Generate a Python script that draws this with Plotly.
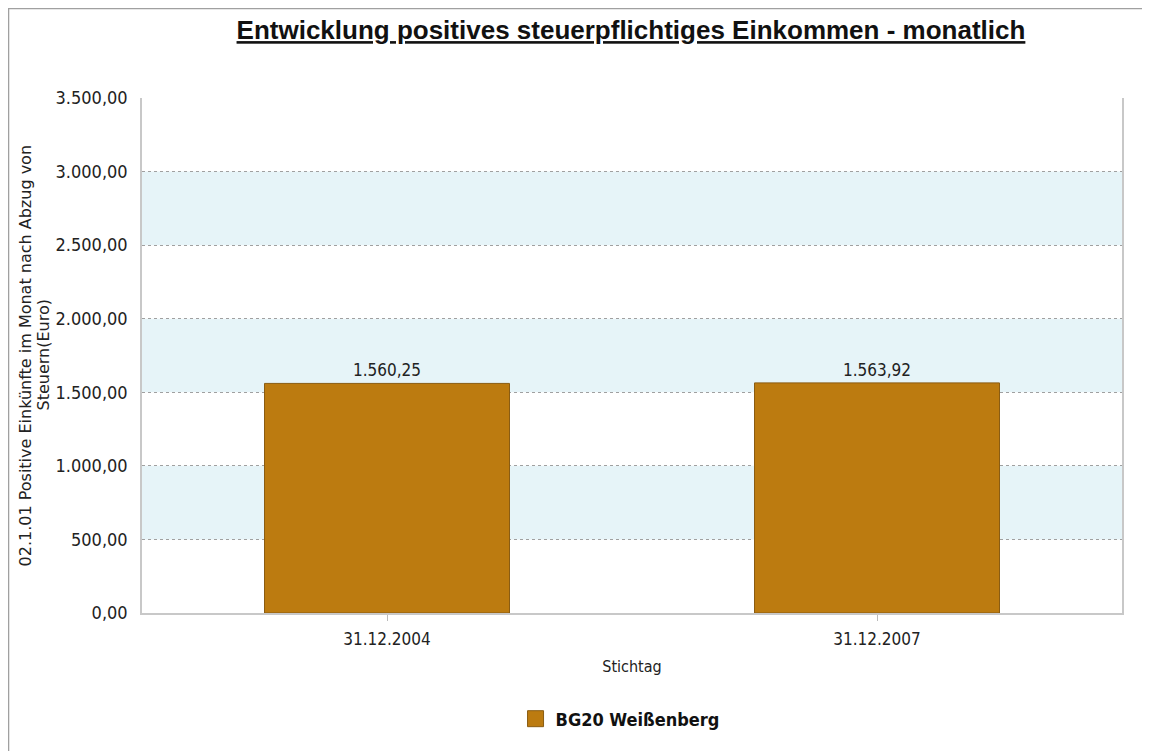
import plotly.graph_objects as go

categories = ["31.12.2004", "31.12.2007"]
values = [1560.25, 1563.92]
series_name = "BG20 Weißenberg"
y_ticks = [0, 500, 1000, 1500, 2000, 2500, 3000, 3500]
band_starts = [500, 1500, 2500]
band_width = 500
y_title_lines = ["02.1.01 Positive Einkünfte im Monat nach Abzug von", "Steuern(Euro)"]

BAR = "#BC7B10"
FONT = "DejaVu Sans Condensed"

fig = go.Figure()
fig.add_trace(go.Bar(
    x=categories, y=values, name=series_name, showlegend=False,
    marker=dict(color=BAR, line=dict(color="#8A5C12", width=1)),
    texttemplate="%{y:,.2f}", textposition="outside",
    textfont=dict(family=FONT, size=17, color="#222"),
    cliponaxis=False,
))
# legend entry
fig.add_trace(go.Scatter(
    x=[None], y=[None], mode="markers", name="<b>" + series_name + "</b>",
    marker=dict(symbol="square", size=20, color=BAR, line=dict(color="#8A5C12", width=1)),
    showlegend=True,
))

shapes = [dict(type="rect", xref="paper", yref="y", x0=0, x1=1, y0=b, y1=b + band_width,
               fillcolor="#E6F4F8", line=dict(width=0), layer="below") for b in band_starts]
# page frame
shapes.append(dict(type="rect", xref="paper", yref="paper", x0=-0.1362, x1=1.1, y0=-0.4, y1=1.1738,
                   line=dict(color="#A0A0A0", width=1.5), fillcolor="rgba(0,0,0,0)", layer="below"))

annotations = [
    dict(text=y_title_lines[0], xref="paper", yref="paper", x=-0.1184, y=0.5,
         textangle=-90, showarrow=False, xanchor="center", yanchor="middle",
         font=dict(family="DejaVu Sans", size=16, color="#222")),
    dict(text=y_title_lines[1], xref="paper", yref="paper", x=-0.1010, y=0.5,
         textangle=-90, showarrow=False, xanchor="center", yanchor="middle",
         font=dict(family="DejaVu Sans", size=16, color="#222")),
]

fig.update_layout(
    width=1150, height=751,
    paper_bgcolor="white", plot_bgcolor="white",
    separators=",.",
    margin=dict(l=134, r=36, t=90, b=146),
    title=dict(text="<b><u>Entwicklung positives steuerpflichtiges Einkommen - monatlich</u></b>",
               x=0.5417, xanchor="center", y=0.9707, yanchor="middle",
               font=dict(family="Liberation Sans", size=26, color="#111")),
    bargap=0.5,
    shapes=shapes,
    annotations=annotations,
    showlegend=True,
    legend=dict(orientation="h", x=0.4878, xanchor="center", y=-0.2058, yanchor="middle",
                font=dict(family=FONT, size=18, color="#111")),
    xaxis=dict(
        title=dict(text="Stichtag", font=dict(family=FONT, size=16, color="#222"), standoff=13),
        tickfont=dict(family=FONT, size=17, color="#222"),
        showline=True, linecolor="#C8C8C8", linewidth=1.5,
        ticks="outside", ticklen=6, tickcolor="#BBBBBB", ticklabelstandoff=4,
        showgrid=False,
    ),
    yaxis=dict(
        tickfont=dict(family=FONT, size=18, color="#222"),
        tickvals=y_ticks, tickformat=",.2f", range=[0, 3500],
        showgrid=True, gridcolor="#A0A0A0", griddash="dot", gridwidth=1,
        showline=True, linecolor="#C8C8C8", linewidth=1.5, mirror=True,
        zeroline=False, ticks="", ticklabelstandoff=9,
    ),
)
fig.write_html("out.html")
